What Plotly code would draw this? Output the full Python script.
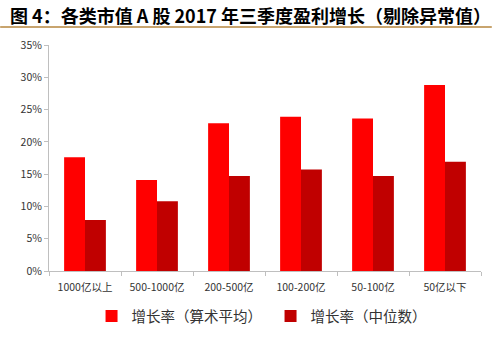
import plotly.graph_objects as go

categories = ["1000亿以上", "500-1000亿", "200-500亿", "100-200亿", "50-100亿", "50亿以下"]
mean_growth = [17.6, 14.1, 22.9, 23.9, 23.6, 28.8]
median_growth = [7.9, 10.8, 14.7, 15.7, 14.7, 16.9]
series_names = ["增长率（算术平均）", "增长率（中位数）"]
y_ticks = [0, 5, 10, 15, 20, 25, 30, 35]
title_text = "图 4：各类市值 A 股 2017 年三季度盈利增长（剔除异常值）"

font_family = "Noto Sans CJK SC, Noto Sans, sans-serif"

fig = go.Figure()
fig.add_trace(go.Bar(x=categories, y=mean_growth, name=series_names[0],
                     marker=dict(color="#FF0000", line=dict(width=0))))
fig.add_trace(go.Bar(x=categories, y=median_growth, name=series_names[1],
                     marker=dict(color="#C00000", line=dict(width=0))))

fig.update_layout(
    width=501, height=338,
    margin=dict(l=49, r=20, t=45, b=67, autoexpand=False),
    paper_bgcolor="white", plot_bgcolor="white",
    barmode="group", bargap=0.42, bargroupgap=0,
    font=dict(family=font_family, color="#333333", size=10),
    showlegend=True,
    legend=dict(orientation="h", x=0.54, xanchor="center", xref="container",
                y=1 - 316 / 338, yanchor="middle", yref="container",
                font=dict(size=14.5, color="#333333"),
                entrywidth=134, entrywidthmode="pixels",
                traceorder="normal"),
    xaxis=dict(showline=True, linecolor="#BFBFBF", linewidth=1,
               ticks="outside", tickson="boundaries", ticklen=4, tickcolor="#BFBFBF",
               ticklabelstandoff=6,
               tickfont=dict(size=10.5, color="#333333"), showgrid=False),
    yaxis=dict(range=[0, 35], tickvals=y_ticks, ticktext=[f"{v}%" for v in y_ticks],
               showline=True, linecolor="#BFBFBF", linewidth=1,
               ticks="outside", ticklen=4, tickcolor="#BFBFBF",
               showgrid=False, zeroline=False,
               tickfont=dict(size=10.5, color="#333333")),
)

fig.add_annotation(text="<b>" + title_text + "</b>", xref="paper", yref="paper",
                   x=0, xanchor="left", y=1, yanchor="top",
                   xshift=-41, yshift=45, showarrow=False,
                   font=dict(size=18, color="#000000", family=font_family))
fig.add_shape(type="line", xref="paper", yref="paper", x0=-0.113, x1=1.025,
              y0=1.08, y1=1.08,
              line=dict(color="#C8A46E", width=2))

fig.write_html("out.html")
